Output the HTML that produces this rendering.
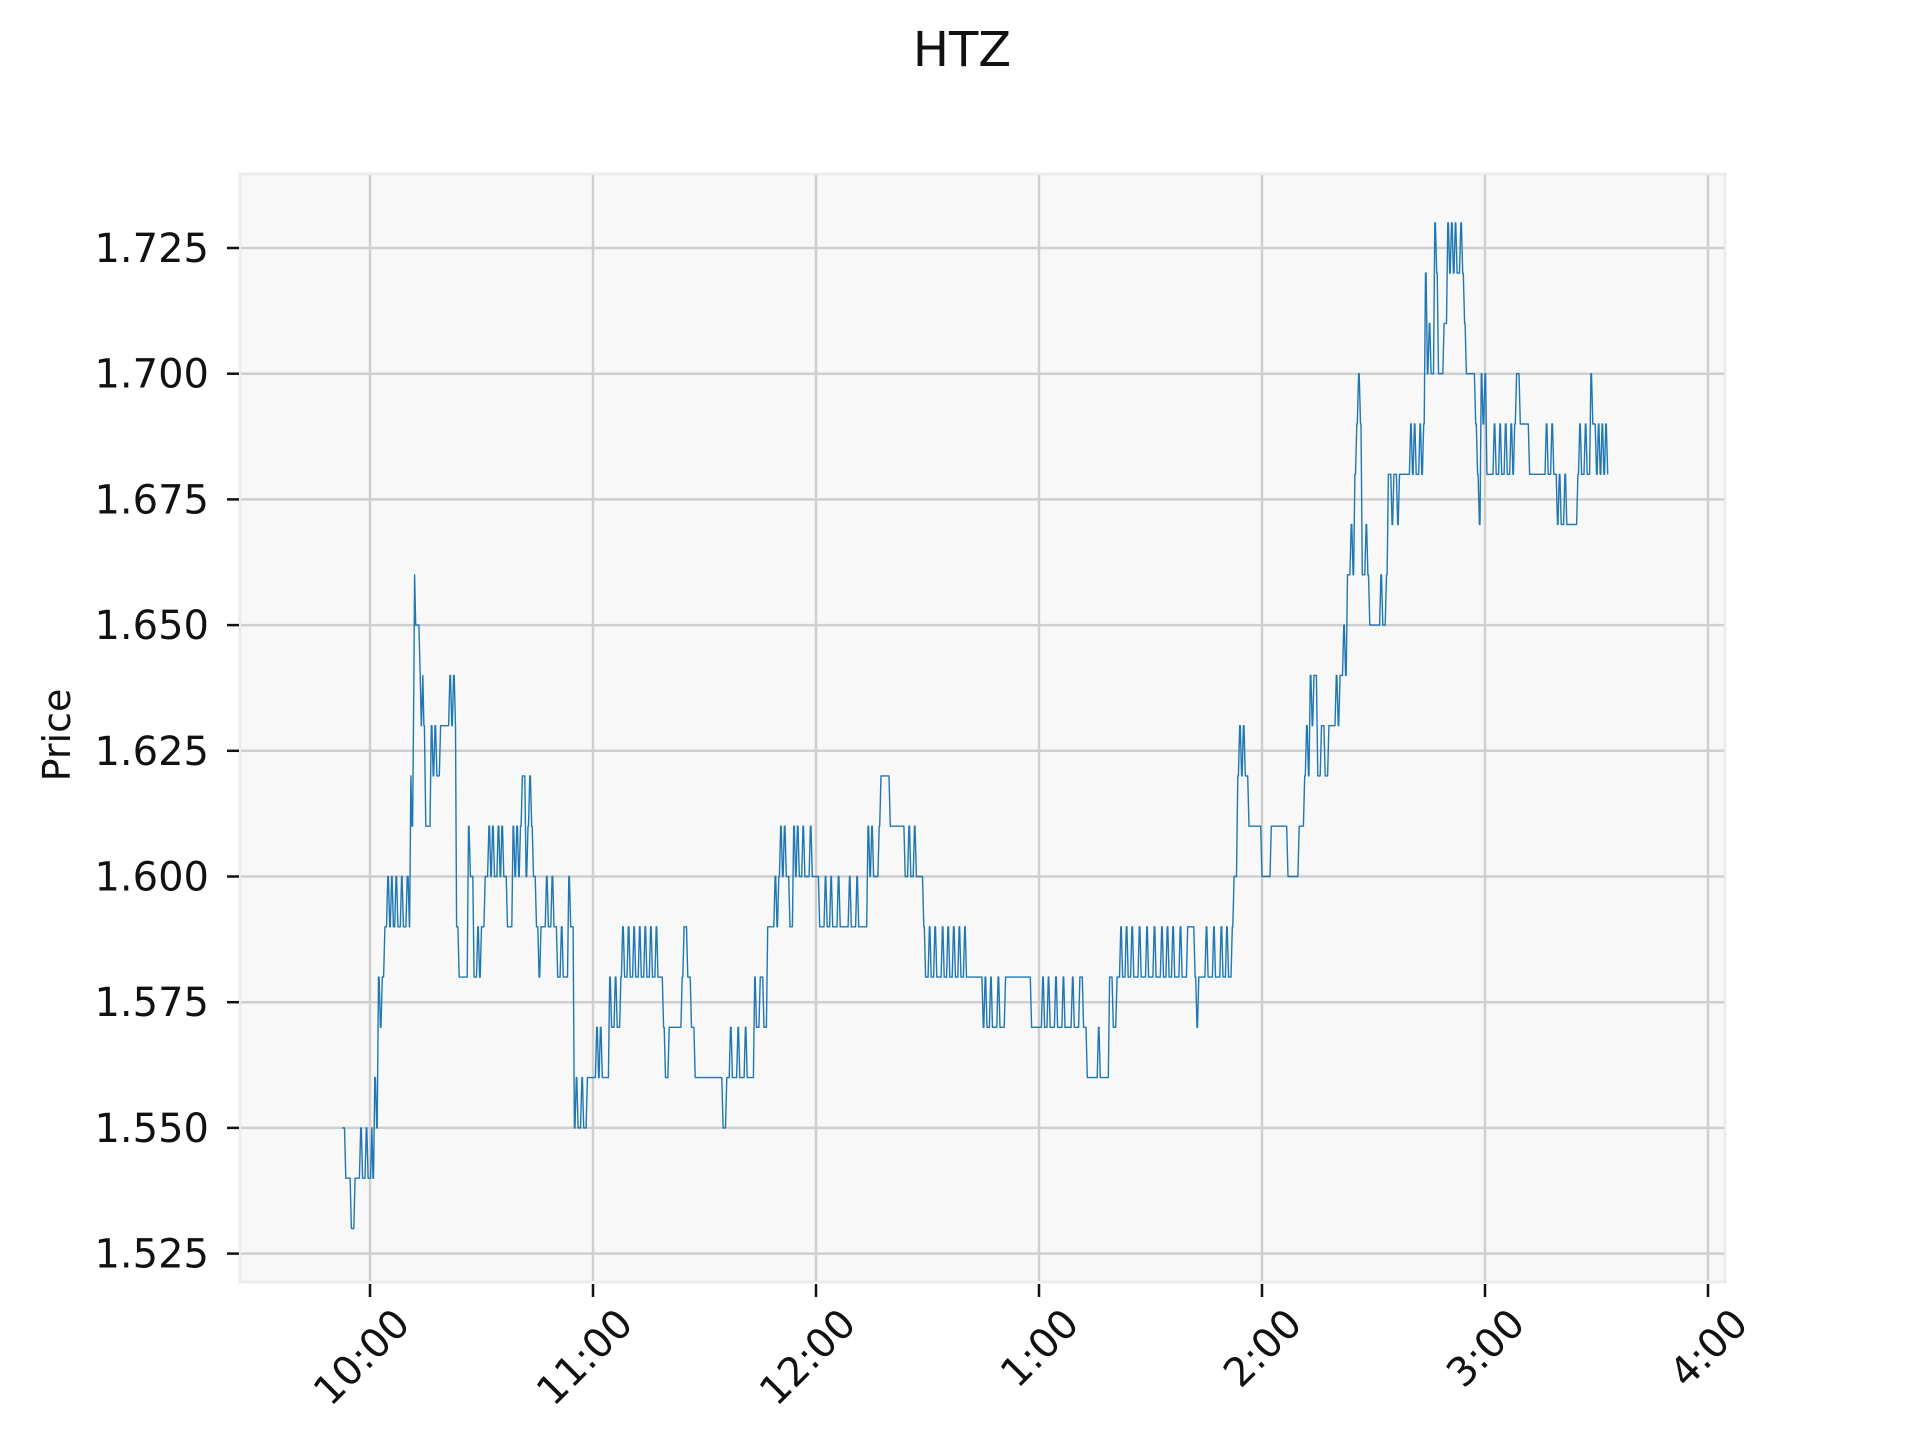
<!DOCTYPE html>
<html><head><meta charset="utf-8"><style>
html,body{margin:0;padding:0;background:#fff;}
svg{display:block;font-family:"DejaVu Sans","Liberation Sans",sans-serif;}
</style></head><body>
<svg id="chart" width="1920" height="1440" viewBox="0 0 1920 1440" xmlns="http://www.w3.org/2000/svg">
<text x="962" y="66" font-size="48" text-anchor="middle" fill="#111">HTZ</text>
<rect x="240" y="174" width="1485" height="1108" fill="#f8f8f8" stroke="#ececec" stroke-width="3"/>
<g id="grid"></g>
<g id="axes"></g>
<g id="series"></g>
<text transform="translate(70,735) rotate(-90)" font-size="38" text-anchor="middle" fill="#111">Price</text>
</svg>
<script>
const yTicks = [1.525, 1.55, 1.575, 1.6, 1.625, 1.65, 1.675, 1.7, 1.725];
const yTickLabels = ["1.525","1.550","1.575","1.600","1.625","1.650","1.675","1.700","1.725"];
const xTicks = [0, 60, 120, 180, 240, 300, 360];
const xTickLabels = ["10:00","11:00","12:00","1:00","2:00","3:00","4:00"];
// [minutes from 10:00, price]
const priceSteps = [[-7.5,1.55],[-6.5,1.54],[-5,1.53],[-4,1.54],[-2.5,1.55],[-2,1.54],[-1,1.55],[-0.5,1.54],[0.5,1.55],[0.8,1.54],[1.3,1.56],[1.8,1.55],[2.3,1.58],[2.8,1.57],[3.3,1.58],[4,1.59],[4.8,1.60],[5.3,1.59],[5.8,1.60],[6.3,1.59],[7,1.60],[7.5,1.59],[8.5,1.60],[9,1.59],[10,1.60],[10.6,1.59],[11,1.62],[11.3,1.61],[11.8,1.64],[12,1.66],[12.3,1.65],[13.5,1.64],[13.8,1.63],[14.2,1.64],[14.5,1.63],[15,1.61],[16.5,1.63],[17,1.62],[17.5,1.63],[18,1.62],[19,1.63],[21.5,1.64],[22,1.63],[22.5,1.64],[23,1.63],[23.3,1.59],[24,1.58],[26.5,1.61],[27,1.60],[28,1.58],[29,1.59],[29.5,1.58],[30,1.59],[31,1.60],[32,1.61],[32.5,1.60],[33,1.61],[33.5,1.60],[34.5,1.61],[35,1.60],[35.5,1.61],[36,1.60],[37,1.59],[38.5,1.61],[39,1.60],[39.5,1.61],[40,1.60],[40.5,1.61],[41,1.62],[42,1.60],[42.5,1.61],[43,1.62],[43.5,1.61],[44,1.60],[44.8,1.59],[45.5,1.58],[46,1.59],[47.5,1.60],[48,1.59],[49,1.60],[49.5,1.59],[50.5,1.58],[51.5,1.59],[52,1.58],[53.5,1.60],[54,1.59],[55,1.55],[55.5,1.56],[56,1.55],[57,1.56],[57.5,1.55],[58.5,1.56],[61,1.57],[61.5,1.56],[62,1.57],[62.5,1.56],[64.5,1.58],[65,1.57],[66,1.58],[66.5,1.57],[67.5,1.58],[68,1.59],[68.5,1.58],[69.5,1.59],[70,1.58],[71,1.59],[71.5,1.58],[72.5,1.59],[73,1.58],[74,1.59],[74.5,1.58],[75.5,1.59],[76,1.58],[77,1.59],[77.5,1.58],[79,1.57],[79.5,1.56],[80.5,1.57],[84,1.58],[84.5,1.59],[85.5,1.58],[86.5,1.57],[87.5,1.56],[95,1.55],[96,1.56],[97,1.57],[97.5,1.56],[99,1.57],[99.5,1.56],[101,1.57],[101.5,1.56],[103.5,1.58],[104,1.57],[105,1.58],[106,1.57],[107,1.59],[109,1.60],[109.5,1.59],[110,1.60],[110.5,1.61],[111,1.60],[111.5,1.61],[112,1.60],[113,1.59],[114,1.61],[114.5,1.60],[115,1.61],[115.5,1.60],[116.5,1.61],[117,1.60],[118.5,1.61],[119,1.60],[121,1.59],[122.5,1.60],[123,1.59],[124,1.60],[124.5,1.59],[126,1.60],[126.5,1.59],[129,1.60],[129.5,1.59],[131,1.60],[131.5,1.59],[134,1.61],[134.5,1.60],[135,1.61],[135.5,1.60],[137,1.61],[137.5,1.62],[140,1.61],[144,1.60],[145,1.61],[145.5,1.60],[146.5,1.61],[147,1.60],[149,1.59],[149.5,1.58],[150.5,1.59],[151,1.58],[152,1.59],[152.5,1.58],[154,1.59],[154.5,1.58],[155.5,1.59],[156,1.58],[157,1.59],[157.5,1.58],[158.5,1.59],[159,1.58],[160,1.59],[160.5,1.58],[163,1.58],[165,1.57],[165.5,1.58],[166,1.57],[167,1.58],[167.5,1.57],[169,1.58],[169.5,1.57],[171,1.58],[178,1.57],[181,1.58],[181.5,1.57],[182.5,1.58],[183,1.57],[184.5,1.58],[185,1.57],[186.5,1.58],[187,1.57],[189,1.58],[189.5,1.57],[191,1.58],[192,1.57],[193,1.56],[196,1.57],[196.5,1.56],[199,1.58],[200,1.57],[201,1.58],[202,1.59],[202.5,1.58],[203.5,1.59],[204,1.58],[205,1.59],[205.5,1.58],[207,1.59],[207.5,1.58],[209,1.59],[209.5,1.58],[211,1.59],[211.5,1.58],[213,1.59],[213.5,1.58],[214.5,1.59],[215,1.58],[216,1.59],[216.5,1.58],[218,1.59],[218.5,1.58],[220,1.59],[222,1.58],[222.5,1.57],[223,1.58],[225,1.59],[225.5,1.58],[227,1.59],[227.5,1.58],[229,1.59],[229.5,1.58],[230.5,1.59],[231,1.58],[232,1.59],[232.5,1.60],[233.5,1.62],[234,1.63],[234.5,1.62],[235,1.63],[235.5,1.62],[236.5,1.61],[240,1.60],[242.5,1.61],[247,1.60],[250,1.61],[251.5,1.62],[252,1.63],[252.5,1.62],[253,1.64],[253.5,1.63],[254,1.64],[255,1.62],[256,1.63],[257,1.62],[258,1.63],[260,1.64],[260.5,1.63],[261,1.64],[262,1.65],[262.5,1.64],[263,1.66],[264,1.67],[264.5,1.66],[265,1.68],[265.5,1.69],[266,1.70],[266.5,1.69],[267,1.66],[268,1.67],[268.5,1.66],[269,1.65],[272,1.66],[272.5,1.65],[273.5,1.66],[274,1.68],[275,1.67],[275.5,1.68],[276.5,1.67],[277,1.68],[280,1.69],[280.5,1.68],[281,1.69],[281.5,1.68],[282.5,1.69],[283,1.68],[283.5,1.69],[284,1.72],[284.5,1.70],[285,1.71],[285.5,1.70],[286.5,1.73],[287,1.72],[287.5,1.70],[289,1.71],[290,1.73],[290.5,1.72],[291,1.73],[291.5,1.72],[292,1.73],[292.5,1.72],[293.5,1.73],[294,1.72],[294.5,1.71],[295,1.70],[297.5,1.69],[298,1.68],[298.5,1.67],[299,1.70],[299.5,1.69],[300,1.70],[300.5,1.68],[302.5,1.69],[303,1.68],[304,1.69],[304.5,1.68],[305.5,1.69],[306,1.68],[307,1.69],[307.5,1.68],[308,1.69],[308.5,1.70],[309.5,1.69],[312,1.68],[316,1.68],[316.5,1.69],[317,1.68],[318,1.69],[318.5,1.68],[319.5,1.67],[320,1.68],[320.5,1.67],[321.5,1.68],[322,1.67],[325,1.68],[325.5,1.69],[326,1.68],[327,1.69],[327.5,1.68],[328.5,1.70],[329,1.69],[330,1.68],[330.5,1.69],[331,1.68],[331.5,1.69],[332,1.68],[332.5,1.69],[333,1.68]];

const NS = "http://www.w3.org/2000/svg";
function xScale(m){ return 370 + m * (223/60); }
function yScale(p){ return 248 + (1.725 - p) * (125.7/0.025); }
function mk(tag, attrs, parent){ const e=document.createElementNS(NS,tag); for(const k in attrs) e.setAttribute(k,attrs[k]); parent.appendChild(e); return e; }
const grid=document.getElementById('grid'), axes=document.getElementById('axes'), series=document.getElementById('series');

yTicks.forEach((v,i)=>{
  const y=yScale(v);
  const gl=mk('line',{x1:241,x2:1724,y1:y,y2:y,stroke:'#cfcfcf','stroke-width':2.5},grid);
  
  
  const tk=mk('line',{x1:227,x2:239,y1:y,y2:y,stroke:'#111','stroke-width':2.5},axes);
  
  
  const t=mk('text',{x:209,y:y+14,'font-size':40,'text-anchor':'end',fill:'#111'},axes);
  t.textContent=yTickLabels[i];
  
  
});
xTicks.forEach((v,i)=>{
  const x=xScale(v);
  const gl=mk('line',{x1:x,x2:x,y1:175,y2:1281,stroke:'#cfcfcf','stroke-width':2.5},grid);
  
  
  const tk=mk('line',{x1:x,x2:x,y1:1284,y2:1297,stroke:'#111','stroke-width':2.5},axes);
  
  
  const t=mk('text',{transform:'translate('+(x+42)+',1326) rotate(-45)','font-size':40,'text-anchor':'end',fill:'#111'},axes);
  t.textContent=xTickLabels[i];
  
  
});
let d='';
priceSteps.forEach((p,i)=>{
  const x=xScale(p[0]), y=yScale(p[1]);
  if(i===0){ d+='M'+x.toFixed(1)+' '+y.toFixed(1); return; }
  const prev=priceSteps[i-1];
  const hold=p[0]-0.35;
  if(hold>prev[0]) d+=' L'+xScale(hold).toFixed(1)+' '+yScale(prev[1]).toFixed(1);
  d+=' L'+x.toFixed(1)+' '+y.toFixed(1);
});
const line=mk('path',{d:d,fill:'none',stroke:'#1f77b4','stroke-width':1.4,'stroke-linejoin':'round'},series);


</script>
</body></html>
